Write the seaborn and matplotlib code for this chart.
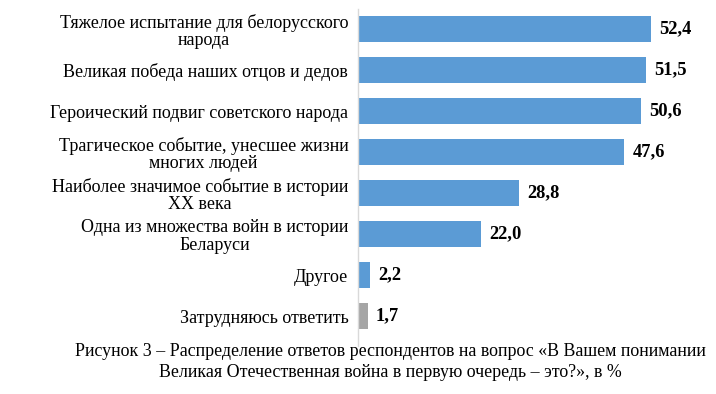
import matplotlib
matplotlib.use("Agg")
import matplotlib.pyplot as plt
import seaborn as sns
import pandas as pd

categories = [
    "Тяжелое испытание для белорусского\nнарода",
    "Великая победа наших отцов и дедов",
    "Героический подвиг советского народа",
    "Трагическое событие, унесшее жизни\nмногих людей",
    "Наиболее значимое событие в истории\nXX века",
    "Одна из множества войн в истории\nБеларуси",
    "Другое",
    "Затрудняюсь ответить",
]
values = [52.4, 51.5, 50.6, 47.6, 28.8, 22.0, 2.2, 1.7]
value_labels = ["52,4", "51,5", "50,6", "47,6", "28,8", "22,0", "2,2", "1,7"]
colors = ["#5B9BD5"] * 7 + ["#A5A5A5"]
caption = ("Рисунок 3 – Распределение ответов респондентов на вопрос «В Вашем понимании\n"
           "Великая Отечественная война в первую очередь – это?», в %")

sns.set_theme(style="white")
plt.rcParams['font.family'] = ['Liberation Serif', 'DejaVu Serif']

df = pd.DataFrame({"cat": categories, "val": values})
fig = plt.figure(figsize=(7.16, 3.94), dpi=100)
ax = fig.add_axes([358/716, 1 - 346/394, (693.6-358)/716, 337.5/394])
sns.barplot(data=df, y="cat", x="val", hue="cat", palette=colors, legend=False,
            width=0.63, ax=ax, orient="h", saturation=1, edgecolor="none")
ax.set_xlim(0, 60)
ax.set_ylim(7.73, -0.5)
ax.set_xlabel("")
ax.set_ylabel("")
ax.set_xticks([])
for s in ["top", "right", "bottom"]:
    ax.spines[s].set_visible(False)
ax.spines["left"].set_color("#D9D9D9")
ax.spines["left"].set_linewidth(1)
ax.tick_params(axis="y", length=0, pad=7)
for lab in ax.get_yticklabels():
    lab.set_fontsize(13)
    lab.set_multialignment("center")
    lab.set_linespacing(1.05)
    lab.set_color("black")
for i, (v, t) in enumerate(zip(values, value_labels)):
    ax.annotate(t, (v, i), xytext=(6, 0), textcoords="offset points",
                va="center", ha="left", fontsize=13.3, fontweight="bold", color="black")
fig.text(390/716, 1 - 362/394, caption, ha="center", va="center",
         fontsize=12.9, color="black", linespacing=1.28)
fig.savefig("out.png", dpi=100)
